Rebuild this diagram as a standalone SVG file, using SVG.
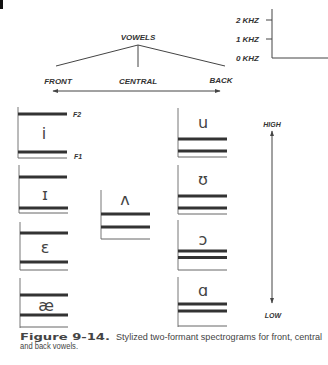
<svg xmlns="http://www.w3.org/2000/svg" width="328" height="365" viewBox="0 0 328 365">
<style>
.lbl{font-family:"Liberation Sans",Arial,sans-serif;font-weight:bold;font-style:italic;fill:#333}
.sym{font-family:"DejaVu Sans","Noto Sans",sans-serif;font-size:16px;fill:#444;text-anchor:middle}
.bar{stroke:#333;stroke-width:3}
.base{stroke:#666;stroke-width:1}
.ax{stroke:#777;stroke-width:1}
.ln{stroke:#444;stroke-width:1;fill:none}
.cap{font-family:"Liberation Sans",Arial,sans-serif;font-size:9px;fill:#444}
.capb{font-family:"DejaVu Sans","Liberation Sans",sans-serif;font-weight:bold;font-size:9px;fill:#444}
</style>
<defs>
<marker id="ah" viewBox="0 0 10 10" refX="9" refY="5" markerWidth="6" markerHeight="6" orient="auto-start-reverse">
<path d="M0,1.5 L10,5 L0,8.5 z" fill="#444"/>
</marker>
</defs>
<rect width="328" height="365" fill="#fff"/>
<rect x="0" y="0" width="3" height="9" fill="#111"/>

<g id="scale">
<text class="lbl" font-size="8" x="259" y="23" text-anchor="end">2 KHZ</text>
<text class="lbl" font-size="8" x="259" y="42" text-anchor="end">1 KHZ</text>
<text class="lbl" font-size="8" x="259" y="61" text-anchor="end">0 KHZ</text>
<path class="ln" d="M272,9 V58 H328 M266,20 H272 M266,39 H272"/>
</g>

<g id="vowels"><text class="lbl" font-size="8" x="138" y="40" text-anchor="middle">VOWELS</text></g>
<g id="front"><text class="lbl" font-size="8" x="58" y="84" text-anchor="middle">FRONT</text></g>
<g id="central"><text class="lbl" font-size="8" x="138" y="84" text-anchor="middle">CENTRAL</text></g>
<g id="back"><text class="lbl" font-size="8" x="221" y="83" text-anchor="middle">BACK</text></g>
<g id="high"><text class="lbl" font-size="7" x="272" y="127" text-anchor="middle">HIGH</text></g>
<g id="low"><text class="lbl" font-size="7" x="273" y="318" text-anchor="middle">LOW</text></g>

<g id="connectors">
<path class="ln" d="M138,45 L56,66 M138,45 L225,66 M138,45 V67"/>
<line class="ln" x1="53" y1="91" x2="220" y2="91" marker-start="url(#ah)" marker-end="url(#ah)"/>
<line class="ln" x1="272" y1="131" x2="272" y2="303" marker-start="url(#ah)" marker-end="url(#ah)"/>
</g>

<g id="box-i">
<line class="ax" x1="18" y1="107" x2="18" y2="158"/>
<line class="bar" x1="18" y1="114" x2="67" y2="114"/>
<line class="bar" x1="18" y1="152" x2="67" y2="152"/>
<line class="base" x1="18" y1="158" x2="67" y2="158"/>
<text class="sym" x="44" y="139">i</text>
<text class="lbl" font-size="7" x="73" y="117">F2</text>
<text class="lbl" font-size="7" x="74" y="159">F1</text>
</g>

<g id="box-I">
<line class="ax" x1="19" y1="165" x2="19" y2="213"/>
<line class="bar" x1="19" y1="177" x2="67" y2="177"/>
<line class="bar" x1="19" y1="208" x2="68" y2="208"/>
<line class="base" x1="19" y1="213" x2="68" y2="213"/>
<text class="sym" x="45" y="200">ɪ</text>
</g>

<g id="box-e">
<line class="ax" x1="20" y1="222" x2="20" y2="270"/>
<line class="bar" x1="20" y1="233" x2="68" y2="233"/>
<line class="bar" x1="20" y1="262" x2="68" y2="262"/>
<line class="base" x1="20" y1="270" x2="68" y2="270"/>
<text class="sym" x="45" y="253">ɛ</text>
</g>

<g id="box-ae">
<line class="ax" x1="20" y1="278" x2="20" y2="328"/>
<line class="bar" x1="20" y1="295" x2="68" y2="295"/>
<line class="bar" x1="20" y1="315" x2="68" y2="315"/>
<line class="base" x1="20" y1="327" x2="68" y2="327"/>
<text class="sym" x="46" y="311">æ</text>
</g>

<g id="box-wedge">
<line class="ax" x1="101" y1="190" x2="101" y2="239"/>
<line class="bar" x1="101" y1="214" x2="150" y2="214"/>
<line class="bar" x1="101" y1="227" x2="150" y2="227"/>
<line class="base" x1="101" y1="239" x2="150" y2="239"/>
<text class="sym" x="125" y="205">ʌ</text>
</g>

<g id="box-u">
<line class="ax" x1="178" y1="108" x2="178" y2="157"/>
<line class="bar" x1="178" y1="139" x2="227" y2="139"/>
<line class="bar" x1="178" y1="151" x2="227" y2="151"/>
<line class="base" x1="178" y1="157" x2="227" y2="157"/>
<text class="sym" x="203" y="128">u</text>
</g>

<g id="box-upsilon">
<line class="ax" x1="178" y1="165" x2="178" y2="214"/>
<line class="bar" x1="178" y1="196" x2="227" y2="196"/>
<line class="bar" x1="178" y1="208" x2="227" y2="208"/>
<line class="base" x1="178" y1="214" x2="227" y2="214"/>
<text class="sym" x="203" y="185">ʊ</text>
</g>

<g id="box-open-o">
<line class="ax" x1="178" y1="220" x2="178" y2="270"/>
<line class="bar" x1="178" y1="251" x2="227" y2="251"/>
<line class="bar" x1="178" y1="257.5" x2="227" y2="257.5"/>
<line class="base" x1="178" y1="270" x2="227" y2="270"/>
<text class="sym" x="203" y="245">ɔ</text>
</g>

<g id="box-alpha">
<line class="ax" x1="178" y1="277" x2="178" y2="327"/>
<line class="bar" x1="178" y1="304" x2="227" y2="304"/>
<line class="bar" x1="178" y1="311" x2="227" y2="311"/>
<line class="base" x1="178" y1="326" x2="227" y2="326"/>
<text class="sym" x="203" y="296">ɑ</text>
</g>

<g id="caption">
<text class="capb" x="20" y="340" textLength="90" lengthAdjust="spacingAndGlyphs">Figure 9-14.</text>
<text class="cap" x="116" y="340" textLength="206" lengthAdjust="spacingAndGlyphs">Stylized two-formant spectrograms for front, central</text>
<text class="cap" x="20" y="349" textLength="58" lengthAdjust="spacingAndGlyphs">and back vowels.</text>
</g>
</svg>
